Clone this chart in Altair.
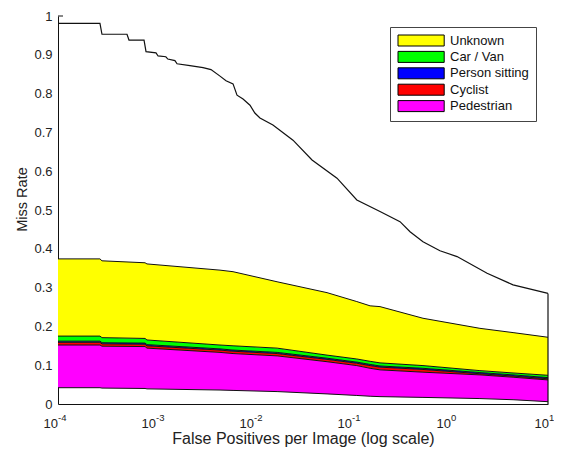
import altair as alt
import pandas as pd

# ---------------- data ----------------
# upper black curve: total miss rate
fppi_total = [1.0e-4, 2.68e-4, 2.81e-4, 5.06e-4, 5.30e-4, 7.55e-4, 7.91e-4, 1.0e-3,
              1.05e-3, 1.26e-3, 1.32e-3, 1.56e-3, 1.64e-3, 2.22e-3, 3.02e-3, 3.64e-3,
              4.50e-3, 5.18e-3, 6.11e-3, 6.71e-3, 7.73e-3, 9.10e-3, 1.02e-2, 1.15e-2,
              1.56e-2, 2.50e-2, 3.91e-2, 7.03e-2, 0.112, 0.193, 0.309, 0.391, 0.530,
              0.790, 1.18, 2.39, 4.40, 10.0]
miss_total = [0.981, 0.981, 0.953, 0.953, 0.938, 0.938, 0.908, 0.905, 0.897, 0.895,
              0.889, 0.885, 0.877, 0.872, 0.867, 0.862, 0.845, 0.833, 0.825, 0.796,
              0.786, 0.770, 0.750, 0.737, 0.719, 0.680, 0.629, 0.582, 0.526, 0.496,
              0.470, 0.444, 0.418, 0.395, 0.380, 0.337, 0.307, 0.285]

# cumulative boundaries of the coloured bands
fppi_band = [1.0e-4, 2.68e-4, 2.81e-4, 7.73e-4, 8.09e-4, 4.50e-3, 6.11e-3, 1.72e-2,
             5.56e-2, 0.112, 0.153, 0.193, 0.530, 2.02, 4.40, 10.0]
base_top = [0.042, 0.042, 0.041, 0.040, 0.039, 0.036, 0.035, 0.032, 0.026, 0.022, 0.020, 0.019, 0.017, 0.014, 0.011, 0.006]
ped_top  = [0.152, 0.152, 0.149, 0.148, 0.144, 0.133, 0.130, 0.124, 0.109, 0.099, 0.092, 0.088, 0.082, 0.075, 0.069, 0.062]
cyc_top  = [0.159, 0.159, 0.155, 0.154, 0.150, 0.139, 0.136, 0.130, 0.115, 0.105, 0.099, 0.095, 0.089, 0.078, 0.072, 0.065]
sit_top  = [0.162, 0.162, 0.158, 0.157, 0.153, 0.142, 0.139, 0.133, 0.118, 0.108, 0.102, 0.098, 0.092, 0.081, 0.075, 0.068]
car_top  = [0.175, 0.175, 0.171, 0.169, 0.165, 0.152, 0.150, 0.144, 0.126, 0.116, 0.110, 0.106, 0.099, 0.086, 0.080, 0.074]
unk_top  = [0.374, 0.374, 0.369, 0.364, 0.361, 0.345, 0.341, 0.315, 0.287, 0.264, 0.253, 0.251, 0.221, 0.195, 0.184, 0.172]

legend_order = ["Unknown", "Car / Van", "Person sitting", "Cyclist", "Pedestrian"]
legend_colors = ["#FFFF00", "#00FF00", "#0000FF", "#FF0000", "#FF00FF"]

y_ticks = [0, 0.1, 0.2, 0.3, 0.4, 0.5, 0.6, 0.7, 0.8, 0.9, 1.0]
x_ticks = [1e-4, 1e-3, 1e-2, 1e-1, 1, 10]
x_exps = ["-4", "-3", "-2", "-1", "0", "1"]

# ---------------- tables ----------------
bands = [("Pedestrian", base_top, ped_top), ("Cyclist", ped_top, cyc_top),
         ("Person sitting", cyc_top, sit_top), ("Car / Van", sit_top, car_top),
         ("Unknown", car_top, unk_top)]
rows = []
for name, lo, hi in bands:
    for f, a, b in zip(fppi_band, lo, hi):
        rows.append({"series": name, "fppi": f, "lo": a, "hi": b})
df_bands = pd.DataFrame(rows)

lrows = []
for name, arr in [("base", base_top), ("ped", ped_top), ("cyc", cyc_top),
                  ("sit", sit_top), ("car", car_top), ("unk", unk_top)]:
    for f, v in zip(fppi_band, arr):
        lrows.append({"b": name, "fppi": f, "v": v})
df_lines = pd.DataFrame(lrows)
df_total = pd.DataFrame({"fppi": fppi_total, "v": miss_total})
df_edge = pd.DataFrame({"fppi": [fppi_total[-1]], "lo": [0.0], "hi": [miss_total[-1]]})
df_xt = pd.DataFrame({"fppi": x_ticks, "base": ["10"] * 6, "exp": x_exps})
df_neg = df_xt[df_xt["exp"].str.startswith("-")]
df_pos = df_xt[~df_xt["exp"].str.startswith("-")]

FONT = "Liberation Sans"
xscale = alt.Scale(type="log", domain=[1e-4, 10], nice=False)
yscale = alt.Scale(domain=[0, 1], nice=False)

xaxis = alt.Axis(labels=False, ticks=False, grid=False, domainColor="#111",
                 title="False Positives per Image (log scale)", titleFontSize=16,
                 titleFontWeight="normal", titleFont=FONT, titleColor="#222",
                 titleBaseline="alphabetic", titleY=39)
yaxis = alt.Axis(values=y_ticks, format="~g", ticks=False, grid=False, domainColor="#111",
                 labelFontSize=13, labelFont=FONT, labelColor="#222", labelPadding=6,
                 labelOverlap=False,
                 title="Miss Rate", titleFontSize=14.5, titleFontWeight="normal",
                 titleFont=FONT, titleColor="#222", titleAngle=270,
                 titleBaseline="alphabetic", titleAlign="center", titleX=-32, titleY=183)

def X():
    return alt.X("fppi:Q", scale=xscale, axis=xaxis, title="False Positives per Image (log scale)")

def Y(field, **kw):
    return alt.Y(field, scale=yscale, axis=yaxis, title="Miss Rate", **kw)

legend_path = "M-1,-1H7.4V1H-1Z"
areas = alt.Chart(df_bands).mark_area(opacity=1, interpolate="linear").encode(
    x=X(),
    y=Y("lo:Q", stack=None),
    y2="hi:Q",
    color=alt.Color("series:N",
                    scale=alt.Scale(domain=legend_order, range=legend_colors),
                    sort=legend_order,
                    legend=alt.Legend(title=None, orient="none", legendX=332, legendY=11,
                                      symbolType=legend_path, symbolSize=121,
                                      symbolStrokeColor="#000", symbolStrokeWidth=1,
                                      symbolOpacity=1, labelFont=FONT, labelFontSize=13,
                                      labelColor="#111", labelOffset=40, rowPadding=1.4,
                                      padding=7, strokeColor="#444", fillColor="white")),
)

lines = alt.Chart(df_lines).mark_line(color="#111", strokeWidth=1).encode(
    x=X(), y=Y("v:Q"), detail="b:N")

total = alt.Chart(df_total).mark_line(color="#111", strokeWidth=1.2).encode(
    x=X(), y=Y("v:Q"))

edge = alt.Chart(df_edge).mark_rule(color="#111", strokeWidth=1.2).encode(
    x=X(), y=Y("lo:Q"), y2="hi:Q")

top_tick = alt.Chart(pd.DataFrame({"v": [1.0]})).mark_rule(color="#111").encode(
    y=Y("v:Q"), x=alt.value(0), x2=alt.value(5))

def tick_text(df, shift):
    base_df = df.assign(zero=0.0)
    t10 = alt.Chart(base_df).mark_text(align="right", baseline="alphabetic", dx=shift, dy=24,
                                       font=FONT, fontSize=13, color="#222").encode(
        x=X(), y=Y("zero:Q"), text="base:N")
    tex = alt.Chart(base_df).mark_text(align="left", baseline="alphabetic", dx=shift, dy=17,
                                       font=FONT, fontSize=9.5, color="#222").encode(
        x=X(), y=Y("zero:Q"), text="exp:N")
    return t10 + tex

chart = alt.layer(areas, lines, total, edge, top_tick,
                  tick_text(df_neg, 0), tick_text(df_pos, 1)).properties(
    width=490, height=388,
    autosize=alt.AutoSizeParams(type="none"),
    padding={"left": 50, "top": 8, "right": 6, "bottom": 43},
    background="white",
).configure_view(stroke=None).configure_axis(labelOverlap=False)

chart.save("out.html", embed_options={"renderer": "svg", "actions": False})
